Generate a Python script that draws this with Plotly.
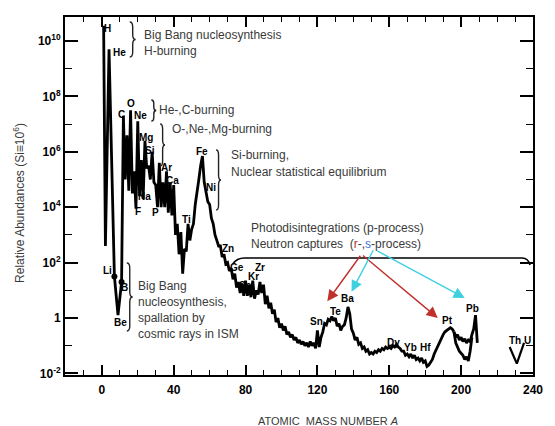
import plotly.graph_objects as go

# ---- solar-system abundances vs. mass number (log10, Si = 10^6) ----
mass_main = [1, 2, 4, 7, 9, 11] + list(range(12, 197))
log_main = [
    10.55, 2.6, 9.7, 1.5, 0.1, 1.3,
    # 12 - 60
    7.3, 5.0, 6.6, 4.6, 7.5, 4.5, 5.3, 3.95, 7.1, 4.4,
    5.7, 4.3, 6.4, 5.4, 5.5, 5.0, 6.0, 4.9, 4.8, 4.0,
    5.6, 4.0, 4.9, 4.0, 5.3, 3.8, 4.9, 3.7, 4.8, 3.0,
    3.4, 2.3, 3.1, 1.6, 2.5, 2.4, 3.4, 2.8, 3.2, 3.4,
    4.1, 4.5, 5.0, 5.5, 5.85, 4.9, 4.6, 4.2, 4.1,
    # 61 - 100
    3.6, 3.4, 3.0, 2.8, 2.6, 2.6, 2.2, 2.3, 1.95, 2.0,
    1.7, 1.8, 1.4, 1.6, 1.1, 1.3, 0.9, 1.25, 0.8, 1.35,
    0.8, 1.2, 0.75, 1.35, 0.7, 1.0, 0.85, 1.3, 0.9, 1.2,
    0.5, 0.8, 0.35, 0.55, 0.15, 0.3, -0.15, 0.0, -0.35, -0.2,
    # 101 - 140
    -0.45, -0.3, -0.6, -0.5, -0.7, -0.6, -0.8, -0.7, -0.9, -0.8,
    -0.95, -0.85, -1.0, -0.9, -1.05, -0.85, -1.0, -0.9, -1.1, -0.45,
    -1.05, -0.7, -0.5, -0.2, -0.25, -0.05, -0.1, 0.05, -0.1, 0.0,
    -0.3, -0.2, -0.45, -0.3, -0.25, 0.0, 0.4, 0.15, -0.4, -0.55,
    # 141 - 180
    -0.8, -0.7, -0.95, -0.9, -1.1, -1.05, -1.2, -1.15, -1.3, -1.25,
    -1.3, -1.2, -1.25, -1.15, -1.2, -1.1, -1.15, -1.05, -1.1, -1.05,
    -1.1, -1.0, -1.05, -0.95, -1.05, -1.1, -1.2, -1.2, -1.35, -1.3,
    -1.4, -1.3, -1.45, -1.35, -1.5, -1.45, -1.55, -1.45, -1.6, -1.55,
    # 181 - 196
    -1.75, -1.7, -1.6, -1.5, -1.3, -1.15, -1.0, -0.85, -0.7, -0.6,
    -0.5, -0.45, -0.4, -0.35, -0.4, -0.5,
]

# Pt - Pb region: even (upper) and odd (lower) branches
mass_upper = list(range(196, 210))
log_upper = [-0.5, -0.7, -0.6, -0.8, -0.7, -0.85, -0.75, -0.9, -0.8, -0.85,
             -0.6, -0.4, 0.1, -0.9]
mass_lower = [196, 197, 199, 201, 202, 203, 204, 205, 206]
log_lower = [-0.5, -0.9, -1.2, -1.35, -1.5, -1.4, -1.55, -1.2, -0.7]

# Th / U
mass_thu = [227, 231, 235]
log_thu = [-1.05, -1.65, -0.9]

# marked light nuclei (Li, B)
mass_dots = [7, 11]
log_dots = [1.5, 1.3]

# element labels: (text, A, log10 abundance)
elem_labels = [
    ("H", 3.0, 10.47), ("He", 9.6, 9.6), ("C", 11.0, 7.35), ("O", 16.0, 7.73),
    ("Ne", 21.8, 7.3), ("Mg", 24.5, 6.53), ("Si", 27.0, 6.06), ("Ar", 36.0, 5.45),
    ("Ca", 39.3, 4.95), ("Na", 24.0, 4.37), ("F", 20.0, 3.83), ("P", 30.0, 3.8),
    ("Ti", 47.3, 3.54), ("Fe", 55.5, 6.0), ("Ni", 60.5, 4.7), ("Zn", 70.0, 2.5),
    ("Ge", 75.3, 1.84), ("Se", 79.8, 1.16), ("Kr", 84.4, 1.48), ("Zr", 88.3, 1.84),
    ("Li", 3.2, 1.72), ("B", 12.6, 1.1), ("Be", 10.2, -0.18),
    ("Sn", 119.5, -0.14), ("Te", 130.3, 0.25), ("Ba", 137.0, 0.72),
    ("Dy", 162.6, -0.9), ("Yb", 171.9, -1.08), ("Hf", 180.0, -1.08),
    ("Pt", 192.6, -0.1), ("Pb", 206.3, 0.36), ("Th U", 232.5, -0.83),
]

x_ticks = [0, 40, 80, 120, 160, 200, 240]
y_tickvals = [1e-2, 1, 1e2, 1e4, 1e6, 1e8, 1e10]
y_ticktext = ["<b>10<sup>-2</sup></b>", "<b>1</b>", "<b>10<sup>2</sup></b>",
              "<b>10<sup>4</sup></b>", "<b>10<sup>6</sup></b>", "<b>10<sup>8</sup></b>",
              "<b>10<sup>10</sup></b>"]

W, H = 555, 426
ML, MR, MT, MB = 65, 13, 17, 51
PW, PH = W - ML - MR, H - MT - MB
TXT = "#3a3a3a"
FONT = "Liberation Sans, Arial, sans-serif"


def px(x):
    return (x - ML) / PW


def py(y):
    return 1 - (y - MT) / PH


def brace(x0, y0, y1, w):
    """Right-pointing curly brace path (paper coords) from pixel values."""
    ym = (y0 + y1) / 2
    r = min(5, (y1 - y0) / 6)
    xm = x0 + w / 2
    pts = [
        ("M", x0, y0), ("Q", xm, y0, xm, y0 + r), ("L", xm, ym - r),
        ("Q", xm, ym, x0 + w, ym), ("Q", xm, ym, xm, ym + r),
        ("L", xm, y1 - r), ("Q", xm, y1, x0, y1),
    ]
    out = []
    for p in pts:
        cmd = p[0]
        vals = p[1:]
        coords = []
        for i in range(0, len(vals), 2):
            coords.append(f"{px(vals[i]):.5f},{py(vals[i + 1]):.5f}")
        out.append(cmd + " " + " ".join(coords))
    return " ".join(out)


fig = go.Figure()

line_style = dict(color="black", width=2.8)
fig.add_trace(go.Scatter(x=mass_main, y=[10 ** v for v in log_main],
                         mode="lines", line=line_style, hoverinfo="skip"))
fig.add_trace(go.Scatter(x=mass_upper, y=[10 ** v for v in log_upper],
                         mode="lines", line=line_style, hoverinfo="skip"))
fig.add_trace(go.Scatter(x=mass_lower, y=[10 ** v for v in log_lower],
                         mode="lines", line=line_style, hoverinfo="skip"))
fig.add_trace(go.Scatter(x=mass_thu, y=[10 ** v for v in log_thu],
                         mode="lines", line=dict(color="black", width=2.2),
                         hoverinfo="skip"))
fig.add_trace(go.Scatter(x=mass_dots, y=[10 ** v for v in log_dots],
                         mode="markers", marker=dict(color="black", size=6),
                         hoverinfo="skip"))

annotations = []
for t, a, lv in elem_labels:
    annotations.append(dict(x=a, y=lv, xref="x", yref="y", text=f"<b>{t}</b>",
                            xanchor="center", yanchor="middle", showarrow=False,
                            font=dict(size=10, color="black", family=FONT)))

# descriptive text blocks (left edge, vertical centre in pixels)
blocks = [
    ("Big Bang nucleosynthesis", 143, 35),
    ("H-burning", 143, 51),
    ("He-,C-burning", 159, 110),
    ("O-,Ne-,Mg-burning", 172, 129),
    ("Si-burning,", 232, 155),
    ("Nuclear statistical equilibrium", 232, 172),
    ("Photodisintegrations (p-process)", 253, 228),
    ("Neutron captures  (<span style='color:#b8322e'>r</span>-,"
     "<span style='color:#3d6fd6'>s</span>-process)", 253, 244),
    ("Big Bang", 137, 286),
    ("nucleosynthesis,", 137, 302),
    ("spallation by", 137, 318),
    ("cosmic rays in ISM", 137, 334),
]
for t, x, y in blocks:
    annotations.append(dict(x=px(x), y=py(y), xref="paper", yref="paper", text=t,
                            xanchor="left", yanchor="middle", showarrow=False,
                            font=dict(size=12, color=TXT, family=FONT)))

# r- and s-process arrows (head A, head log, tail A, tail log, colour)
arrows = [
    (125.5, 0.6, 144.5, 2.3, "#c0302c"),
    (187.0, 0.0, 144.5, 2.3, "#c0302c"),
    (139.0, 0.95, 151.5, 2.5, "#3fd0e0"),
    (202.0, 0.72, 152.5, 2.45, "#3fd0e0"),
]
for hx, hy, tx, ty, c in arrows:
    annotations.append(dict(x=hx, y=hy, ax=tx, ay=ty, xref="x", yref="y",
                            axref="x", ayref="y", text="", showarrow=True,
                            arrowhead=2, arrowsize=1.6, arrowwidth=1.4, arrowcolor=c))

annotations.append(dict(x=px(333), y=py(421), xref="paper", yref="paper",
                        xanchor="center", yanchor="middle",
                        text="ATOMIC  MASS NUMBER <i>A</i>", showarrow=False,
                        font=dict(size=11, color=TXT, family=FONT)))
annotations.append(dict(x=px(18), y=py(203), xref="paper", yref="paper",
                        xanchor="center", yanchor="middle",
                        text="Relative Abundances (Si\u226110<sup>6</sup>)", textangle=-90,
                        showarrow=False, font=dict(size=12, color=TXT, family=FONT)))

shapes = []
for x0, y0, y1, w in [(131, 22, 57, 6), (153, 100, 121, 5), (162, 124, 166, 5),
                      (219, 150, 210, 5), (128, 263, 331, 6)]:
    shapes.append(dict(type="path", xref="paper", yref="paper", path=brace(x0, y0, y1, w),
                       line=dict(color="#222", width=1.4)))

# bracket line over the neutron-capture region
hook = (f"M {px(236):.5f},{py(264):.5f} Q {px(240):.5f},{py(258):.5f} {px(248):.5f},{py(258):.5f} "
        f"L {px(531):.5f},{py(258):.5f} Q {px(537):.5f},{py(258):.5f} {px(539):.5f},{py(265):.5f}")
shapes.append(dict(type="path", xref="paper", yref="paper", path=hook,
                   line=dict(color="black", width=1.6)))

fig.update_layout(
    width=W, height=H,
    margin=dict(l=ML, r=MR, t=MT, b=MB),
    paper_bgcolor="white", plot_bgcolor="white",
    showlegend=False,
    annotations=annotations,
    shapes=shapes,
    xaxis=dict(range=[-20.5, 240], tickvals=x_ticks,
               ticktext=[f"<b>{v}</b>" for v in x_ticks],
               ticks="inside", ticklen=10, tickwidth=1.5, tickcolor="black",
               ticklabelstandoff=3,
               minor=dict(dtick=10, tick0=0, ticks="inside", ticklen=5, tickwidth=1.2,
                          tickcolor="black"),
               showline=True, linecolor="black", linewidth=2, mirror="allticks",
               showgrid=False, zeroline=False,
               tickfont=dict(size=12, color="black", family=FONT)),
    yaxis=dict(type="log", range=[-2.06, 10.87], tickvals=y_tickvals, ticktext=y_ticktext,
               ticks="inside", ticklen=13, tickwidth=1.5, tickcolor="black",
               minor=dict(tickvals=[1e-1, 1e1, 1e3, 1e5, 1e7, 1e9], ticks="inside",
                          ticklen=7, tickwidth=1.2, tickcolor="black"),
               showline=True, linecolor="black", linewidth=2, mirror="allticks",
               showgrid=False, zeroline=False,
               tickfont=dict(size=12, color="black", family=FONT)),
)

fig.write_html("out.html")
